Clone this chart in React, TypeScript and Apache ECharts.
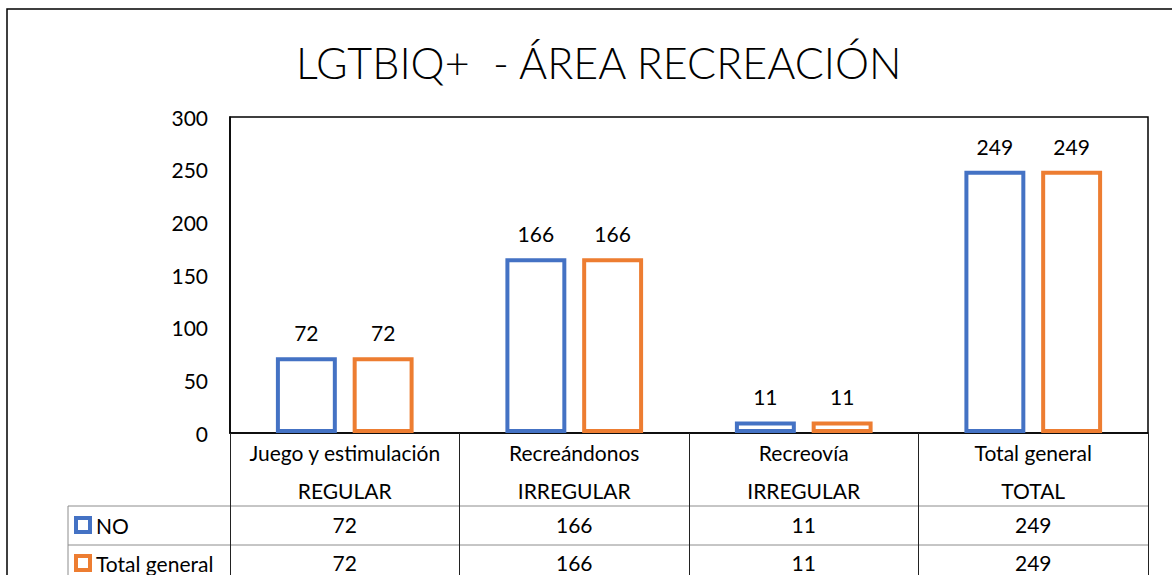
import React, { useEffect, useRef } from "react";
import * as echarts from "echarts";

const TITLE = "LGTBIQ+  - ÁREA RECREACIÓN";
const categories = ["Juego y estimulación", "Recreándonos", "Recreovía", "Total general"];
const groups = ["REGULAR", "IRREGULAR", "IRREGULAR", "TOTAL"];
const seriesNames = ["NO", "Total general"];
const seriesNO = [72, 166, 11, 249];
const seriesTotal = [72, 166, 11, 249];
const yTicks = { min: 0, max: 300, interval: 50 };
const colors = ["#4472C4", "#ED7D31"];

const FONT = "Lato, 'Open Sans', sans-serif";
const FS = 21;

export default function App() {
  const ref = useRef<HTMLDivElement>(null);
  useEffect(() => {
    document.body.style.margin = "0";
    const chart = echarts.init(ref.current!, undefined, { renderer: "svg" });
    const gridLeft = 230, gridTop = 117, gridRight = 1148, gridBottom = 433;
    const valuesRows = [seriesNO, seriesTotal];
    const option: any = {
      animation: false,
      backgroundColor: "#fff",
      textStyle: { fontFamily: FONT },
      title: {
        text: TITLE,
        left: 291,
        top: 36,
        textStyle: { fontFamily: FONT, fontSize: 43, fontWeight: 300, color: "#000" },
      },
      grid: {
        left: gridLeft,
        top: gridTop,
        right: 1172 - gridRight,
        bottom: 575 - gridBottom,
        show: true,
        borderColor: "#000",
        borderWidth: 1.5,
        containLabel: false,
      },
      xAxis: [
        {
          type: "category",
          data: categories.map((c, i) => c + "\n" + groups[i]),
          position: "bottom",
          axisLine: { show: true, lineStyle: { color: "#000", width: 1.5 } },
          axisTick: { show: true, interval: 0, length: 142, lineStyle: { color: "#222", width: 1 } },
          axisLabel: {
            interval: 0,
            hideOverlap: false,
            margin: 0,
            fontSize: FS,
            lineHeight: 38,
            color: "#000",
            fontFamily: FONT,
          },
          splitLine: { show: false },
        },
        ...valuesRows.map((row, r) => ({
          type: "category",
          data: row.map((v) => String(v)),
          position: "bottom",
          offset: 0,
          axisLine: { show: false },
          axisTick: { show: false },
          axisLabel: {
            interval: 0,
            margin: r === 0 ? 80 : 118,
            fontSize: FS,
            lineHeight: 22,
            color: "#000",
            fontFamily: FONT,
          },
          splitLine: { show: false },
        })),
      ],
      yAxis: {
        type: "value",
        min: yTicks.min,
        max: yTicks.max,
        interval: yTicks.interval,
        axisLine: { show: true, lineStyle: { color: "#000", width: 1.5 } },
        axisTick: { show: false },
        splitLine: { show: false },
        axisLabel: { fontSize: FS, color: "#000", margin: 22, fontFamily: FONT },
      },
      series: [seriesNO, seriesTotal].map((data, i) => ({
        name: seriesNames[i],
        type: "bar",
        xAxisIndex: 0,
        data,
        barCategoryGap: "40%",
        barGap: "26%",
        itemStyle: { color: "#fff", borderColor: colors[i], borderWidth: 4 },
        label: {
          show: true,
          position: "top",
          distance: 14,
          fontSize: FS,
          color: "#000",
          fontFamily: FONT,
        },
      })),
      graphic: [
        {
          type: "polyline",
          shape: { points: [[7, 600], [7, 9], [1180, 9]] },
          style: { stroke: "#000", lineWidth: 1.5, fill: null },
        },
        {
          type: "line",
          shape: { x1: 68, y1: 506, x2: gridRight, y2: 506 },
          style: { stroke: "#8c8c8c", lineWidth: 1 },
        },
        {
          type: "line",
          shape: { x1: 68, y1: 545, x2: gridRight, y2: 545 },
          style: { stroke: "#8c8c8c", lineWidth: 1 },
        },
        {
          type: "line",
          shape: { x1: 68, y1: 506, x2: 68, y2: 575 },
          style: { stroke: "#8c8c8c", lineWidth: 1 },
        },
        ...seriesNames.flatMap((name, i) => [
          {
            type: "rect",
            shape: { x: 76, y: 518 + i * 38, width: 14, height: 14 },
            style: { fill: "#fff", stroke: colors[i], lineWidth: 4 },
          },
          {
            type: "text",
            x: 96,
            y: 525 + i * 38,
            style: {
              text: name,
              fontSize: FS,
              fill: "#000",
              fontFamily: FONT,
              verticalAlign: "middle",
              align: "left",
            },
          },
        ]),
      ],
    };
    chart.setOption(option);
    return () => chart.dispose();
  }, []);
  return <div ref={ref} style={{ width: 1172, height: 575 }} />;
}
